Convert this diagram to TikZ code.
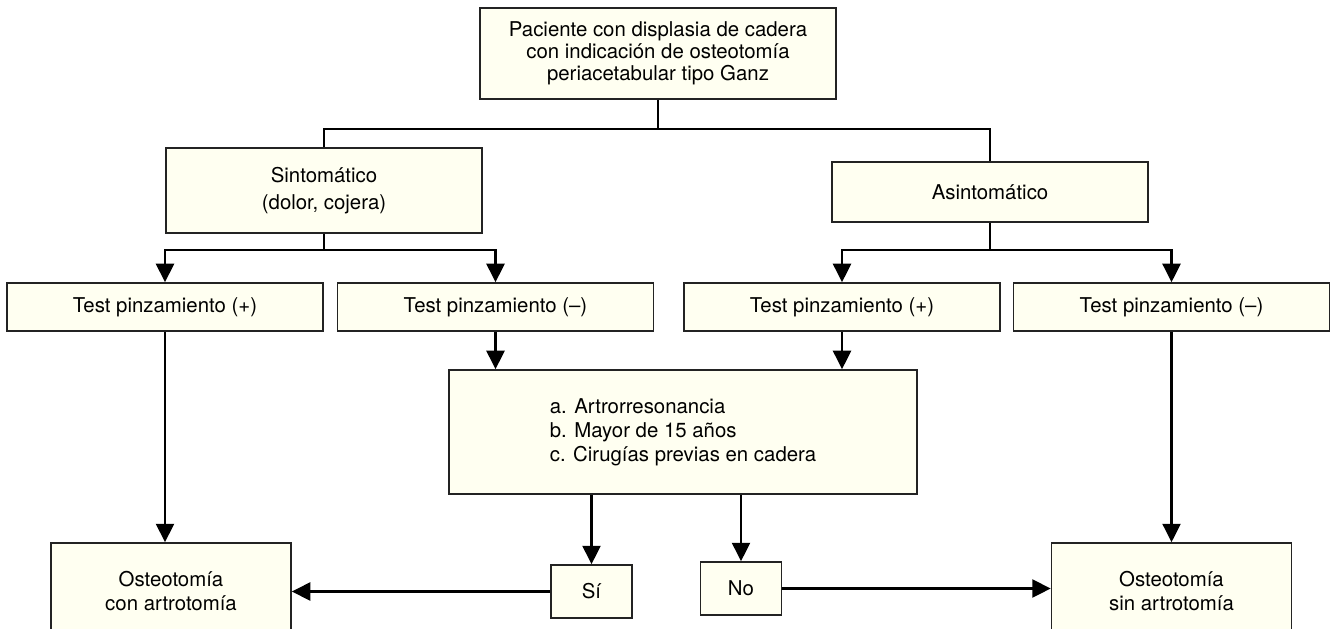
\documentclass[tikz,border=0pt]{standalone}
\usepackage{fontspec}
\setmainfont{TeX Gyre Heros}
\usepackage{tikz}
\usetikzlibrary{arrows.meta,calc}
\definecolor{cadfill}{RGB}{255,255,241}
\definecolor{cadline}{RGB}{35,35,35}
\tikzset{
  caja/.style={
    draw=cadline,
    fill=cadfill,
    line width=0.3mm,
    inner sep=0pt,
    align=center,
    font=\fontsize{11.6}{13.6}\selectfont
  },
  ancha/.style={caja, minimum width=63.2mm},
  linea/.style={line width=0.42mm, black},
  flecha/.style={-{Triangle[length=3.7mm,width=3.6mm]}, line width=0.42mm, black}
}

\begin{document}
\begin{tikzpicture}[x=0.2mm, y=-0.2mm]
            \path[use as bounding box, clip] (0,0) rectangle (1330,629);
            \node[caja, minimum width=71.2mm, minimum height=18.2mm,
                  font=\fontsize{11.6}{12.6}\selectfont] (pac) at (658,53.5)
                  {Paciente con displasia de cadera\\con indicación de osteotomía\\periacetabular tipo Ganz};
            \node[ancha, minimum height=17mm, font=\fontsize{11.6}{15.2}\selectfont] (sint) at (324,190.5) {Sintomático\\(dolor, cojera)};
            \node[ancha, minimum height=12mm] (asint) at (990,192) {Asintomático};
            \node[ancha, minimum height=9.6mm] (tp1) at (165,307) {Test pinzamiento (+)};
            \node[ancha, minimum height=9.6mm] (tn1) at (495.5,307) {Test pinzamiento (–)};
            \node[ancha, minimum height=9.6mm] (tp2) at (842,307) {Test pinzamiento (+)};
            \node[ancha, minimum height=9.6mm] (tn2) at (1171.5,307) {Test pinzamiento (–)};
            \node[caja, align=left, minimum width=93.6mm, minimum height=24.8mm] (crit) at (683,432)
                  {a. Artrorresonancia\\b. Mayor de 15 años\\c. Cirugías previas en cadera};
            \node[caja, minimum width=16.2mm, minimum height=10.6mm] (si) at (591.5,591.5) {Sí};
            \node[caja, minimum width=16.2mm, minimum height=10.6mm] (no) at (741,588.5) {No};
            \node[caja, minimum width=48mm, minimum height=19.2mm] (conart) at (171,591) {Osteotomía\\con artrotomía};
            \node[caja, minimum width=48mm, minimum height=19.2mm] (sinart) at (1171.5,591) {Osteotomía\\sin artrotomía};
            \coordinate (j0) at (658,129);
            \coordinate (j1) at (324,250);
            \coordinate (j2) at (990,250);
            \draw[linea] (pac) -- (j0);
            \draw[linea] (sint.north) |- (j0) -| (asint.north);
            \draw[linea] (sint) -- (j1);
            \draw[linea] (asint) -- (j2);
            \draw[flecha] (j1) -| (tp1.north);
            \draw[flecha] (j1) -| (tn1.north);
            \draw[flecha] (j2) -| (tp2.north);
            \draw[flecha] (j2) -| (tn2.north);
            \draw[flecha] (tp1.south) -- (tp1.south |- conart.north);
            \draw[flecha] (tn1.south) -- (tn1.south |- crit.north);
            \draw[flecha] (tp2.south) -- (tp2.south |- crit.north);
            \draw[flecha] (tn2.south) -- (tn2.south |- sinart.north);
            \draw[flecha] (si.north |- crit.south) -- (si.north);
            \draw[flecha] (no.north |- crit.south) -- (no.north);
            \draw[flecha] (si.west) -- (si.west -| conart.east);
            \draw[flecha] (no.east) -- (no.east -| sinart.west);
          \end{tikzpicture}
\end{document}
